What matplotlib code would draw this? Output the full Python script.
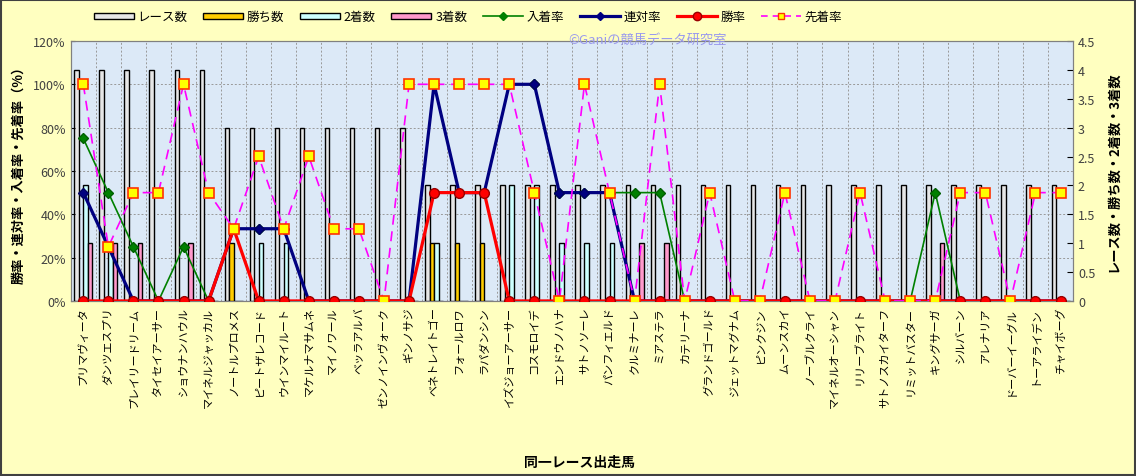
import numpy as np
import matplotlib
matplotlib.use("Agg")
import matplotlib.pyplot as plt
from matplotlib.patches import Rectangle, Patch
from matplotlib.lines import Line2D
from matplotlib.ticker import FuncFormatter

plt.rcParams['font.family'] = ['Noto Sans CJK JP', 'DejaVu Sans']

# ---------------- DATA ----------------
horses = ["プリマヴィータ", "ダンツエスプリ", "プレイリードリーム", "タイセイアーサー", "ショウナンハウル",
          "マイネルジャッカル", "ノートルプロメス", "ピートザレコード", "ウインマイルート", "マケルナマサムネ",
          "マイノワール", "ベッラアルバ", "ゼンノインヴォーク", "ギンノサジ", "ベネトレイトゴー",
          "フォールロワ", "ラパダンシン", "イズジョーアーサー", "コスモロイデ", "エンドウノハナ",
          "サトノソーレ", "パンフィエルド", "クルミナーレ", "ミアステラ", "カテリーナ",
          "グランドゴールド", "ジェットマグナム", "ピンクジン", "ムーンスカイ", "ノーブルクライ",
          "マイネルオーシャン", "リリーブライト", "サトノスカイターフ", "リミットバスター", "キングサーガ",
          "シルバーン", "アレナリア", "ドーバーイーグル", "トーアライデン", "チャイボーグ"]

races = [4, 4, 4, 4, 4, 4, 3, 3, 3, 3, 3, 3, 3, 3, 2, 2, 2, 2, 2, 2,
         2, 2, 2, 2, 2, 2, 2, 2, 2, 2, 2, 2, 2, 2, 2, 2, 2, 2, 2, 2]
wins = [0, 0, 0, 0, 0, 0, 1, 0, 0, 0, 0, 0, 0, 0, 1, 1, 1, 0, 0, 0,
        0, 0, 0, 0, 0, 0, 0, 0, 0, 0, 0, 0, 0, 0, 0, 0, 0, 0, 0, 0]
seconds = [2, 1, 0, 0, 0, 0, 0, 1, 1, 0, 0, 0, 0, 0, 1, 0, 0, 2, 2, 1,
           1, 1, 0, 0, 0, 0, 0, 0, 0, 0, 0, 0, 0, 0, 0, 0, 0, 0, 0, 0]
thirds = [1, 1, 1, 0, 1, 0, 0, 0, 0, 0, 0, 0, 0, 0, 0, 0, 0, 0, 0, 0,
          0, 0, 1, 1, 0, 0, 0, 0, 0, 0, 0, 0, 0, 0, 1, 0, 0, 0, 0, 0]
# 先着率 (%)
senchaku = [100, 25, 50, 50, 100, 50, 33.3, 66.7, 33.3, 66.7, 33.3, 33.3, 0, 100, 100, 100, 100, 100, 50, 0,
            100, 50, 0, 100, 0, 50, 0, 0, 50, 0, 0, 50, 0, 0, 0, 50, 50, 0, 50, 50]

races = np.array(races, float)
wins = np.array(wins, float)
seconds = np.array(seconds, float)
thirds = np.array(thirds, float)
win_rate = wins / races * 100
rentai_rate = (wins + seconds) / races * 100
nyuchaku_rate = (wins + seconds + thirds) / races * 100

# ---------------- PLOT ----------------
fig = plt.figure(figsize=(11.36, 4.77), dpi=100, facecolor='#FFFFC0')
ax = fig.add_axes([0.0623, 0.367, 0.8823, 0.545])
ax2 = ax.twinx()
ax.set_zorder(2)
ax2.set_zorder(1)
ax.patch.set_visible(False)
ax2.patch.set_visible(True)
ax2.patch.set_facecolor('#DCE9F7')

x = np.arange(len(horses))
w = 0.18
bar_specs = [(races, '#E6E6E6', -0.27), (wins, '#FFCC00', -0.09),
             (seconds, '#CCFFFF', 0.09), (thirds, '#FF99CC', 0.27)]
for vals, col, off in bar_specs:
    ax2.bar(x + off, vals, w, color=col, edgecolor='black', linewidth=1.0, zorder=3)

# gridlines behind bars
for k in range(1, 6):
    ax2.axhline(k * 0.75, color='#999999', linestyle=(0, (2, 2)), linewidth=0.7, zorder=1)
for i in range(1, len(horses)):
    ax2.axvline(i - 0.5, color='#999999', linestyle=(0, (2, 2)), linewidth=0.7, zorder=1)

ax2.set_ylim(0, 4.5)
ax2.set_yticks(np.arange(0, 4.51, 0.5))
ax2.yaxis.set_major_formatter(FuncFormatter(lambda v, p: f"{v:g}"))

# rate lines
ax.plot(x, nyuchaku_rate, color='#008000', lw=1.2, marker='D', ms=5,
        mfc='#008000', mec='#006000', zorder=4)
ax.plot(x, rentai_rate, color='#000080', lw=2.3, marker='D', ms=5.5,
        mfc='#000080', mec='#000060', zorder=5)
ax.plot(x, win_rate, color='#FF0000', lw=2.3, marker='o', ms=7,
        mfc='#FF0000', mec='#990000', zorder=6)
ax.plot(x, senchaku, color='#FF00FF', lw=1.2, linestyle=(0, (6, 4)), marker='s', ms=7,
        mfc='#FFFF00', mec='#FF3300', mew=1.2, zorder=7)

ax.set_xlim(-0.5, len(horses) - 0.5)
ax.set_ylim(0, 120)
ax.set_yticks(range(0, 121, 20))
ax.yaxis.set_major_formatter(FuncFormatter(lambda v, p: f"{v:.0f}%"))
ax.set_xticks(x)
ax.set_xticklabels(horses, rotation=90, fontsize=8)
ax.tick_params(axis='x', length=0, pad=4)
ax.tick_params(axis='y', labelsize=9, labelcolor='#404040', length=3, direction='in')
ax2.tick_params(axis='y', labelsize=9, labelcolor='#404040', length=4, direction='in')

for a in (ax, ax2):
    for s in a.spines.values():
        s.set_color('#808080')

ax.set_ylabel("勝率・連対率・入着率・先着率（%）", fontsize=9.5, fontweight='bold', labelpad=6)
ax2.set_ylabel("レース数・勝ち数・2着数・3着数", fontsize=9.5, fontweight='bold', labelpad=8)
fig.text(0.51, 0.03, "同一レース出走馬", ha='center', va='center', fontsize=10, fontweight='bold')
fig.text(0.50, 0.915, "©Ganiの競馬データ研究室", ha='left', va='center', fontsize=9.5, color='#9999EE')

handles = [
    Patch(facecolor='#E6E6E6', edgecolor='black', label='レース数'),
    Patch(facecolor='#FFCC00', edgecolor='black', label='勝ち数'),
    Patch(facecolor='#CCFFFF', edgecolor='black', label='2着数'),
    Patch(facecolor='#FF99CC', edgecolor='black', label='3着数'),
    Line2D([], [], color='#008000', lw=1.2, marker='D', ms=4, label='入着率'),
    Line2D([], [], color='#000080', lw=2.3, marker='D', ms=4, label='連対率'),
    Line2D([], [], color='#FF0000', lw=2.3, marker='o', ms=6, mec='#990000', label='勝率'),
    Line2D([], [], color='#FF00FF', lw=1.2, linestyle=(0, (4, 3)), marker='s', ms=5,
           mfc='#FFFF00', mec='#FF3300', label='先着率'),
]
fig.legend(handles=handles, loc='center', bbox_to_anchor=(0.412, 0.963), ncol=8, frameon=False,
           fontsize=9, handlelength=3.2, handleheight=0.4, columnspacing=1.25, handletextpad=0.3)

fig.patches.append(Rectangle((0.001, 0.002), 0.998, 0.996, transform=fig.transFigure,
                             fill=False, edgecolor='#404040', linewidth=1.5))

fig.savefig("out.png", dpi=100, facecolor=fig.get_facecolor())
